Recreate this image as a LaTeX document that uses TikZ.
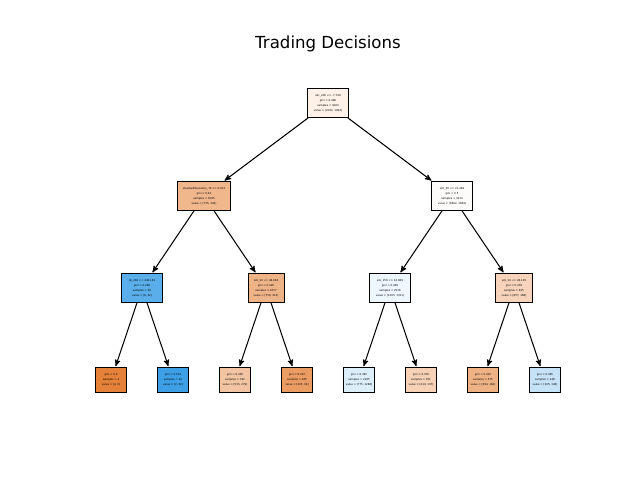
\documentclass[tikz,border=0pt]{standalone}
\usepackage{fontspec}
\setmainfont{DejaVu Sans}
\usetikzlibrary{arrows,positioning}
\definecolor{cRoot}{HTML}{FDF1E8}
\definecolor{cA}{HTML}{F0B68C}
\definecolor{cB}{HTML}{FEFCFA}
\definecolor{cC}{HTML}{5AAEE9}
\definecolor{cD}{HTML}{EFB388}
\definecolor{cE}{HTML}{EEF7FD}
\definecolor{cF}{HTML}{F6D3BA}
\definecolor{cL1}{HTML}{E58139}
\definecolor{cL2}{HTML}{3D9FE6}
\definecolor{cL3}{HTML}{F3C4A2}
\definecolor{cL4}{HTML}{EB9C63}
\definecolor{cL5}{HTML}{DDEEFB}
\definecolor{cL6}{HTML}{F6D1B6}
\definecolor{cL7}{HTML}{EFB285}
\definecolor{cL8}{HTML}{C5E2F7}
\newcommand{\tinytext}{\fontsize{1.9pt}{3.5pt}\selectfont}
\begin{document}
\begin{tikzpicture}[->,>=stealth',shorten >=0.5pt,line width=0.75pt,x=0.0254cm,y=-0.0254cm,
     split/.style={draw, line width=0.7pt, inner sep=0.5pt, align=center, font=\tinytext,
       minimum width=#1, minimum height=21pt},
     leaf/.style={draw, line width=0.9pt, inner sep=0.5pt, align=center, font=\tinytext,
       minimum width=22pt, minimum height=18pt}]
    \useasboundingbox (0,0) rectangle (640,480);
    \node[font=\fontsize{12}{14}\selectfont] (title) at (328,44) {Trading Decisions};
    % split nodes
    \node[split=29pt, fill=cRoot] (root) at (328,103) {sdc\_200 <= -7.749\\gini = 0.496\\samples = 4283\\value = [2292, 1994]};
    \node[split=39pt, fill=cA] (n1) at (204,196) {standardDeviation\_70 <= 0.022\\gini = 0.44\\samples = 1095\\value = [735, 345]};
    \node[split=29pt, fill=cB] (n2) at (452,196) {sdc\_30 <= 21.499\\gini = 0.5\\samples = 3333\\value = [1862, 1649]};
    \node[split=29pt, fill=cC] (n3) at (142,288) {rsi\_200 <= 446.161\\gini = 0.266\\samples = 38\\value = [6, 32]};
    \node[split=26pt, fill=cD] (n4) at (266,288) {sdc\_20 <= 48.028\\gini = 0.426\\samples = 1057\\value = [750, 313]};
    \node[split=29pt, fill=cE] (n5) at (390,288) {sdc\_250 <= 16.689\\gini = 0.499\\samples = 2536\\value = [1205, 1311]};
    \node[split=27pt, fill=cF] (n6) at (514,288) {sdc\_10 <= 28.105\\gini = 0.479\\samples = 825\\value = [657, 168]};
    % leaves
    \node[leaf, fill=cL1] (l1) at (111,380) {gini = 0.0\\samples = 4\\value = [4, 0]};
    \node[leaf, fill=cL2] (l2) at (173,380) {gini = 0.114\\samples = 34\\value = [2, 32]};
    \node[leaf, fill=cL3] (l3) at (235,380) {gini = 0.456\\samples = 792\\value = [515, 279]};
    \node[leaf, fill=cL4] (l4) at (297,380) {gini = 0.207\\samples = 265\\value = [235, 34]};
    \node[leaf, fill=cL5] (l5) at (359,380) {gini = 0.495\\samples = 2185\\value = [775, 1286]};
    \node[leaf, fill=cL6] (l6) at (421,380) {gini = 0.476\\samples = 351\\value = [214, 137]};
    \node[leaf, fill=cL7] (l7) at (483,380) {gini = 0.432\\samples = 575\\value = [394, 182]};
    \node[leaf, fill=cL8] (l8) at (545,380) {gini = 0.485\\samples = 248\\value = [105, 148]};
    \path (root) edge (n1) (root) edge (n2);
    \path (n1) edge (n3) (n1) edge (n4);
    \path (n2) edge (n5) (n2) edge (n6);
    \path (n3) edge (l1) (n3) edge (l2);
    \path (n4) edge (l3) (n4) edge (l4);
    \path (n5) edge (l5) (n5) edge (l6);
    \path (n6) edge (l7) (n6) edge (l8);
\end{tikzpicture}
\end{document}
